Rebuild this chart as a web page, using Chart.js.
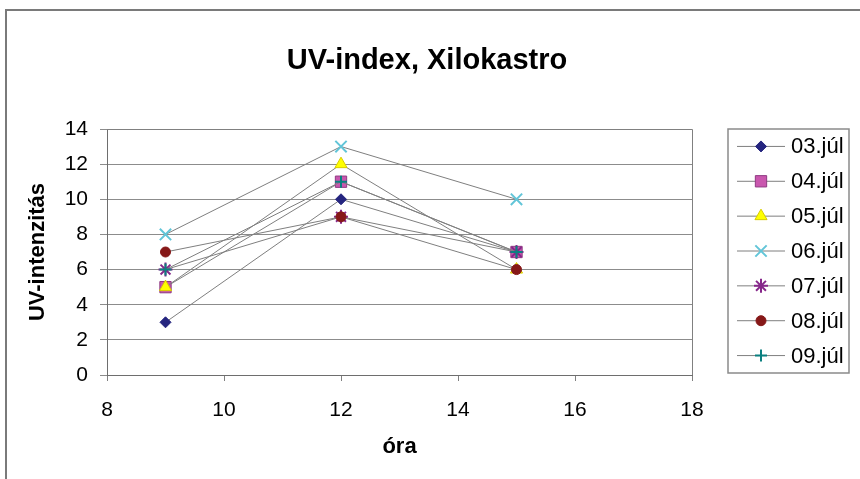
<!DOCTYPE html>
<html>
<head>
<meta charset="utf-8">
<title>UV-index, Xilokastro</title>
<script src="https://cdn.jsdelivr.net/npm/chart.js@4.4.1/dist/chart.umd.min.js"></script>
<style>
  html, body { margin: 0; padding: 0; background: #ffffff; }
  canvas { display: block; }
</style>
</head>
<body>
<canvas id="uv" width="860" height="479"></canvas>
<script>
// Measurement hours (x values)
const hours = [9, 12, 15];

// Daily UV-intensity readings at 9, 12 and 15 o'clock
const days = ['03.júl', '04.júl', '05.júl', '06.júl', '07.júl', '08.júl', '09.júl'];
const jul03 = [3, 10, 7];
const jul04 = [5, 11, 7];
const jul05 = [5, 12, 6];
const jul06 = [8, 13, 10];
const jul07 = [6, 9, 7];
const jul08 = [7, 9, 6];
const jul09 = [6, 11, 7];
const dailyValues = [jul03, jul04, jul05, jul06, jul07, jul08, jul09];

// Axis ticks
const xTicks = [8, 10, 12, 14, 16, 18];
const yTicks = [0, 2, 4, 6, 8, 10, 12, 14];

const chartTitle = 'UV-index, Xilokastro';

// Marker look per day
const markers = [
  { pointStyle: 'rectRot',  radius: 5.5, fill: '#25257f', stroke: '#25257f', width: 1 },
  { pointStyle: 'rect',     radius: 8,   fill: '#c957ae', stroke: '#8e3a82', width: 1 },
  { pointStyle: 'triangle', radius: 7,   fill: '#ffff00', stroke: '#d8cc00', width: 1 },
  { pointStyle: 'crossRot', radius: 8,   fill: '#62c5d8', stroke: '#62c5d8', width: 2 },
  { pointStyle: 'star',     radius: 7,   fill: '#86278a', stroke: '#86278a', width: 2 },
  { pointStyle: 'circle',   radius: 5,   fill: '#861818', stroke: '#861818', width: 1 },
  { pointStyle: 'cross',    radius: 6,   fill: '#0b8080', stroke: '#0b8080', width: 2 }
];

const FONT = '"Liberation Sans", Arial, Helvetica, sans-serif';
const LINE_GREY = '#7f7f7f';

const datasets = days.map((name, i) => ({
  label: name,
  data: hours.map((h, k) => ({ x: h, y: dailyValues[i][k] })),
  showLine: true,
  borderColor: LINE_GREY,
  borderWidth: 1,
  pointStyle: markers[i].pointStyle,
  pointRadius: markers[i].radius,
  pointHoverRadius: markers[i].radius,
  pointBackgroundColor: markers[i].fill,
  pointBorderColor: markers[i].stroke,
  pointBorderWidth: markers[i].width,
  order: days.length - 1 - i,
  tension: 0
}));

// Outer frame, title, plot-area frame and a legend with line + marker samples
const framePlugin = {
  id: 'frames',
  beforeDraw(chart) {
    const ctx = chart.ctx;
    ctx.save();
    ctx.fillStyle = '#ffffff';
    ctx.fillRect(0, 0, chart.width, chart.height);
    ctx.strokeStyle = '#7a7a7a';
    ctx.lineWidth = 2;
    ctx.strokeRect(6, 10, chart.width + 20, chart.height + 20);
    // chart title, centred over plot + legend block
    ctx.fillStyle = '#000000';
    ctx.font = 'bold 29px ' + FONT;
    ctx.textAlign = 'center';
    ctx.textBaseline = 'middle';
    ctx.fillText(chartTitle, 427, 61);
    ctx.restore();
  },
  beforeDatasetsDraw(chart) {
    const { ctx, chartArea: a } = chart;
    ctx.save();
    ctx.strokeStyle = '#808080';
    ctx.lineWidth = 1;
    ctx.beginPath();
    ctx.moveTo(a.left, a.top + 0.5);
    ctx.lineTo(a.right + 0.5, a.top + 0.5);
    ctx.lineTo(a.right + 0.5, a.bottom);
    ctx.stroke();
    ctx.restore();
  },
  afterDraw(chart) {
    const ctx = chart.ctx;
    const a = chart.chartArea;
    const boxLeft = a.right + 36;
    const boxRight = chart.width - 11;
    const boxTop = a.top;
    const boxBottom = a.bottom - 2;
    ctx.save();
    ctx.strokeStyle = '#8a8a8a';
    ctx.lineWidth = 1.5;
    ctx.strokeRect(boxLeft, boxTop, boxRight - boxLeft, boxBottom - boxTop);
    const n = chart.data.datasets.length;
    const step = (boxBottom - boxTop) / n;
    chart.data.datasets.forEach((ds, i) => {
      const y = boxTop + step * (i + 0.5);
      ctx.strokeStyle = LINE_GREY;
      ctx.lineWidth = 1;
      ctx.beginPath();
      ctx.moveTo(boxLeft + 9, y);
      ctx.lineTo(boxLeft + 57, y);
      ctx.stroke();
      ctx.fillStyle = ds.pointBackgroundColor;
      ctx.strokeStyle = ds.pointBorderColor;
      ctx.lineWidth = ds.pointBorderWidth;
      Chart.helpers.drawPoint(ctx, {
        pointStyle: ds.pointStyle,
        radius: ds.pointRadius,
        rotation: 0,
        borderWidth: ds.pointBorderWidth
      }, boxLeft + 33, y);
      ctx.fillStyle = '#000000';
      ctx.font = '22px ' + FONT;
      ctx.textBaseline = 'middle';
      ctx.textAlign = 'left';
      ctx.fillText(ds.label, boxLeft + 63, y + 1);
    });
    ctx.restore();
  }
};

new Chart(document.getElementById('uv'), {
  type: 'scatter',
  data: { datasets },
  plugins: [framePlugin],
  options: {
    responsive: false,
    animation: false,
    devicePixelRatio: 1,
    layout: { padding: { left: 8, right: 168, top: 129, bottom: 0 } },
    plugins: {
      legend: { display: false },
      tooltip: { enabled: false },
      title: { display: false }
    },
    scales: {
      x: {
        type: 'linear',
        min: 8,
        max: 18,
        afterBuildTicks(scale) { scale.ticks = xTicks.map(v => ({ value: v })); },
        afterFit(scale) { scale.height = 104; },
        grid: { drawOnChartArea: false, drawTicks: true, tickLength: 6, color: '#808080' },
        border: { color: '#6e6e6e', width: 1 },
        ticks: {
          color: '#000000',
          font: { family: FONT, size: 21 },
          padding: 17,
          maxRotation: 0
        },
        title: {
          display: true,
          text: 'óra',
          color: '#000000',
          font: { family: FONT, size: 22, weight: 'bold' },
          padding: { top: 0, bottom: 19 }
        }
      },
      y: {
        type: 'linear',
        min: 0,
        max: 14,
        afterBuildTicks(scale) { scale.ticks = yTicks.map(v => ({ value: v })); },
        afterFit(scale) { scale.width = 99; },
        grid: { drawOnChartArea: true, drawTicks: true, tickLength: 7, color: '#8c8c8c' },
        border: { color: '#6e6e6e', width: 1 },
        ticks: {
          color: '#000000',
          font: { family: FONT, size: 21 },
          padding: 12
        },
        title: {
          display: true,
          text: 'UV-intenzitás',
          color: '#000000',
          font: { family: FONT, size: 22, weight: 'bold' },
          padding: { top: 17, bottom: 0 }
        }
      }
    }
  }
});
</script>
</body>
</html>
